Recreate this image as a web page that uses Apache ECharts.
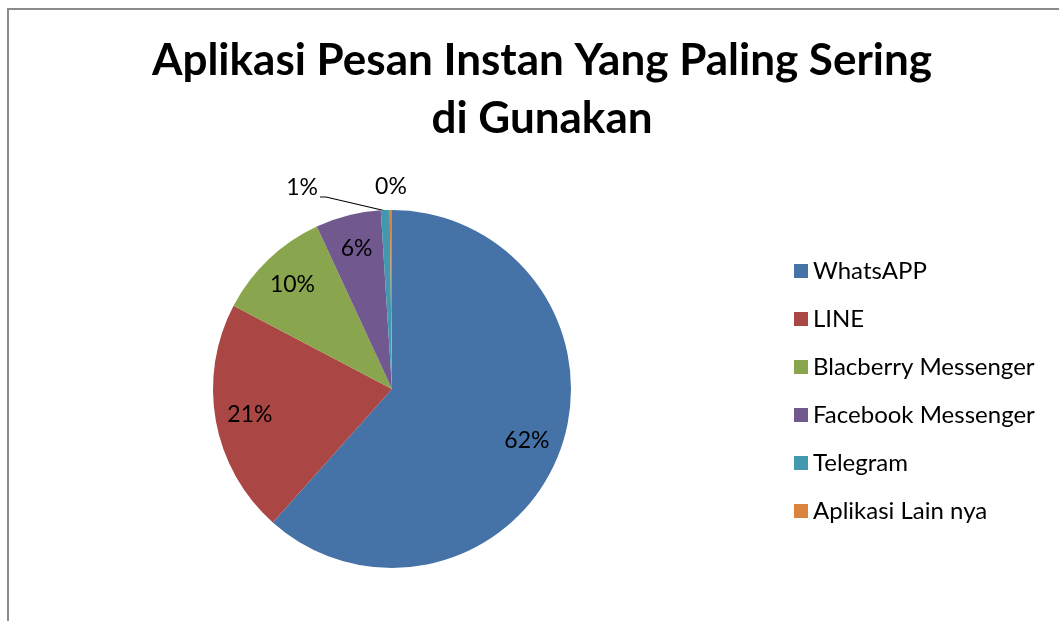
<!DOCTYPE html>
<html lang="id">
<head>
    <meta charset="utf-8" />
    <title>Aplikasi Pesan Instan</title>
    <script src="https://cdn.jsdelivr.net/npm/echarts@6/dist/echarts.min.js"></script>
    <style>
        html, body { margin: 0; padding: 0; background: #fff; }
        #main { width: 1059px; height: 621px; }
    </style>
</head>
<body>
    <div id="main"></div>
    <script>
        // data (percent share)
        var apps = ['WhatsAPP', 'LINE', 'Blacberry Messenger', 'Facebook Messenger', 'Telegram', 'Aplikasi Lain nya'];
        var shares = [61.6, 21.1, 10.4, 5.9, 0.8, 0.2];
        var colors = ['#4572A7', '#AA4643', '#89A54E', '#71588F', '#4198AF', '#DB843D'];

        var fontName = 'Lato, "Open Sans", sans-serif';
        var R = 179;
        var center = [392, 389];

        function pct(p) { return Math.round(p.percent) + '%'; }

        // small slices get outside labels with a leader line
        var pieData = apps.map(function (name, i) {
            var small = shares[i] < 2;
            return {
                name: name, value: shares[i],
                itemStyle: { color: colors[i] },
                label: { show: small },
                labelLine: { show: small }
            };
        });

        var myChart = echarts.init(document.getElementById('main'), null, { renderer: 'canvas' });

        var option = {
            animation: false,
            title: {
                text: 'Aplikasi Pesan Instan Yang Paling Sering\ndi Gunakan',
                left: 537,
                top: 27,
                textAlign: 'center',
                textStyle: {
                    fontFamily: fontName,
                    fontSize: 44,
                    fontWeight: 'bold',
                    lineHeight: 58,
                    color: '#000'
                }
            },
            legend: {
                orient: 'vertical',
                left: 789,
                top: 254,
                itemWidth: 14,
                itemHeight: 14,
                itemGap: 24,
                icon: 'rect',
                data: apps,
                textStyle: { fontFamily: fontName, fontSize: 24, color: '#000' }
            },
            graphic: [{
                type: 'rect',
                shape: { x: 8, y: 9, width: 1200, height: 800 },
                style: { fill: 'none', stroke: '#8a8a8a', lineWidth: 2 },
                silent: true
            }],
            series: [{
                type: 'pie',
                center: center,
                radius: [0, R],
                startAngle: 90,
                clockwise: true,
                avoidLabelOverlap: false,
                itemStyle: { borderWidth: 0 },
                data: pieData,
                label: {
                    position: 'outside',
                    fontFamily: fontName,
                    fontSize: 23,
                    color: '#000',
                    formatter: pct
                },
                labelLine: { length: 8, length2: 50, lineStyle: { color: '#000', width: 1.2 } },
                labelLayout: function (p) {
                    if (p.dataIndex === 4) {
                        return { x: 318, y: 188, align: 'right', verticalAlign: 'middle',
                            labelLinePoints: [[386, 211], [326, 197], [320, 197]] };
                    }
                    if (p.dataIndex === 5) {
                        return { x: 391, y: 187, align: 'center', verticalAlign: 'middle',
                            labelLinePoints: [[391, 209], [391, 209], [391, 209]] };
                    }
                },
                emphasis: { disabled: true }
            }, {
                // transparent twin used only to place the inside labels at ~0.8 R
                type: 'pie',
                center: center,
                radius: [0, R * 1.58],
                startAngle: 90,
                clockwise: true,
                silent: true,
                z: 3,
                data: apps.map(function (name, i) { return { name: name, value: shares[i] }; }),
                itemStyle: { color: 'rgba(0,0,0,0)', borderWidth: 0 },
                label: {
                    show: true,
                    position: 'inside',
                    fontFamily: fontName,
                    fontSize: 23,
                    color: '#000',
                    formatter: function (p) { return p.percent >= 2 ? pct(p) : ''; }
                },
                labelLine: { show: false },
                emphasis: { disabled: true }
            }]
        };

        myChart.setOption(option);
    </script>
</body>
</html>
